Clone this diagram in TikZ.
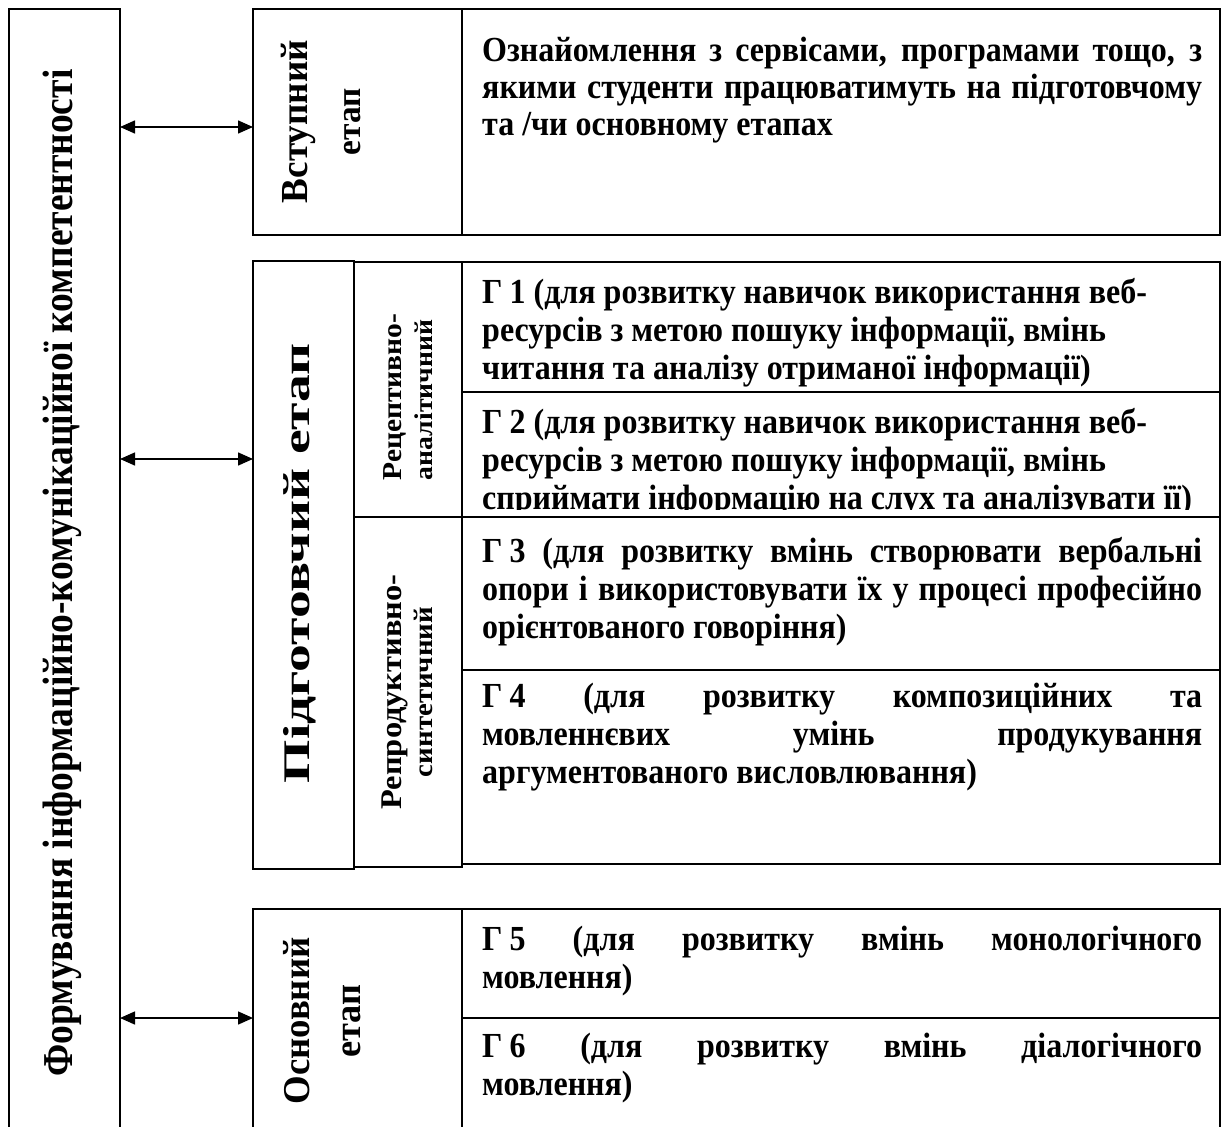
\documentclass[tikz,border=0pt]{standalone}
\usepackage{fontspec}
\setmainfont{Liberation Serif}
\usetikzlibrary{arrows.meta}
\newcommand\rtfont{\fontsize{32}{38}\selectfont\bfseries}
\newcommand\gsp{\kern0.22em}
\newcommand\hl[1]{\scalebox{1}[1.1]{#1}}
\newcommand\jline[1]{\scalebox{1}[1.1]{\makebox[720pt][s]{#1}}}
\newcommand\vl[3]{\resizebox{#1pt}{!}{\scalebox{#2}[1]{\fontsize{32}{38}\selectfont\bfseries #3}}}
\begin{document}
\begin{tikzpicture}[x=1pt,y=-1pt,
  cell/.style={draw, line width=1.7pt, anchor=north west, inner sep=0pt, outer sep=0pt},
  txt/.style={anchor=base west, inner sep=0pt, font=\rtfont},
  vlab/.style={rotate=90, anchor=base, inner sep=0pt},
  biarrow/.style={line width=1.5pt, {Triangle[length=15pt,width=13pt]}-{Triangle[length=15pt,width=13pt]}}]
\useasboundingbox (0,0) rectangle (1222,1126);
\clip (0,0) rectangle (1222,1126);
\fill[white] (0,0) rectangle (1222,1126);
% cells
\node[cell, minimum width=111pt, minimum height=1200pt] (L) at (9,9) {};
\node[cell, minimum width=209pt, minimum height=226pt] (V) at (253,9) {};
\node[cell, minimum width=758pt, minimum height=226pt] (VC) at (462,9) {};
\node[cell, minimum width=101pt, minimum height=608pt] (P) at (253,261) {};
\node[cell, minimum width=108pt, minimum height=255pt] (R1) at (354,262) {};
\node[cell, minimum width=108pt, minimum height=350pt] (R2) at (354,517) {};
\node[cell, minimum width=758pt, minimum height=130pt] (G1) at (462,262) {};
\node[cell, minimum width=758pt, minimum height=125pt] (G2) at (462,392) {};
\node[cell, minimum width=758pt, minimum height=153pt] (G3) at (462,517) {};
\node[cell, minimum width=758pt, minimum height=194pt] (G4) at (462,670) {};
\node[cell, minimum width=209pt, minimum height=300pt] (O) at (253,909) {};
\node[cell, minimum width=758pt, minimum height=109pt] (G5) at (462,909) {};
\node[cell, minimum width=758pt, minimum height=200pt] (G6) at (462,1018) {};
% arrows
\coordinate (a1) at (0,127);
\coordinate (a2) at (0,459);
\coordinate (a3) at (0,1018);
\draw[biarrow] (L.east |- a1) -- (V.west |- a1);
\draw[biarrow] (L.east |- a2) -- (P.west |- a2);
\draw[biarrow] (L.east |- a3) -- (O.west |- a3);
% vertical labels
\node[vlab] (ltxt) at (72,573) {\vl{1007}{0.88}{Формування інформаційно-комунікаційної компетентності}};
\node[vlab] (v1) at (307,121.5) {\vl{163}{0.97}{Вступний}};
\node[vlab] (v2) at (360,121.5) {\vl{67}{0.97}{етап}};
\node[vlab] (p1) at (309,563) {\vl{440}{1.48}{Підготовчий етап}};
\node[vlab] (r1a) at (401,397) {\vl{167}{1.08}{Рецептивно-}};
\node[vlab] (r1b) at (432,400) {\vl{160}{1.08}{аналітичний}};
\node[vlab] (r2a) at (401,692) {\vl{235}{1.08}{Репродуктивно-}};
\node[vlab] (r2b) at (432,692) {\vl{170}{1.08}{синтетичний}};
\node[vlab] (o1) at (309,1021) {\vl{167}{0.97}{Основний}};
\node[vlab] (o2) at (360,1021) {\vl{73}{0.97}{етап}};
% text lines
\node[txt] (t01) at (482,62) {\jline{Ознайомлення з сервісами, програмами тощо, з}};
\node[txt] (t02) at (482,99) {\jline{якими студенти працюватимуть на підготовчому}};
\node[txt] (t03) at (482,136) {\hl{та /чи основному етапах}};
\node[txt] (t11) at (482,303) {\hl{Г\gsp1 (для розвитку навичок використання веб-}};
\node[txt] (t12) at (482,341) {\hl{ресурсів з метою пошуку інформації, вмінь}};
\node[txt] (t13) at (482,379) {\hl{читання та аналізу отриманої інформації)}};
\node[txt] (t21) at (482,433) {\hl{Г\gsp2 (для розвитку навичок використання веб-}};
\node[txt] (t22) at (482,471) {\hl{ресурсів з метою пошуку інформації, вмінь}};
\begin{scope}
\clip (463,470) rectangle (1219,509);
\node[txt] (t23) at (482,509) {\hl{сприймати інформацію на слух та аналізувати її)}};
\end{scope}
\node[txt] (t31) at (482,562) {\jline{Г\gsp3 (для розвитку вмінь створювати вербальні}};
\node[txt] (t32) at (482,600) {\jline{опори і використовувати їх у процесі професійно}};
\node[txt] (t33) at (482,638) {\hl{орієнтованого говоріння)}};
\node[txt] (t41) at (482,707) {\jline{Г\gsp4 (для розвитку композиційних та}};
\node[txt] (t42) at (482,745) {\jline{мовленнєвих умінь продукування}};
\node[txt] (t43) at (482,783) {\hl{аргументованого висловлювання)}};
\node[txt] (t51) at (482,950) {\jline{Г\gsp5 (для розвитку вмінь монологічного}};
\node[txt] (t52) at (482,988) {\hl{мовлення)}};
\node[txt] (t61) at (482,1057) {\jline{Г\gsp6 (для розвитку вмінь діалогічного}};
\node[txt] (t62) at (482,1095) {\hl{мовлення)}};
\end{tikzpicture}
\end{document}
